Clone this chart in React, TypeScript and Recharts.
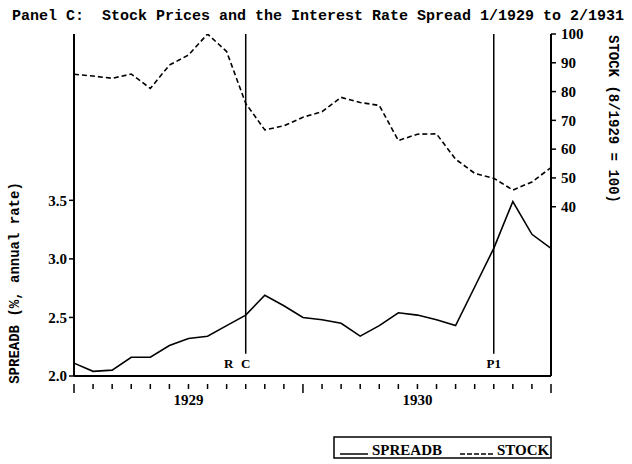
import { ComposedChart, Line, XAxis, YAxis, ReferenceLine } from 'recharts';

// monthly, 1/1929 .. 2/1931
const months = [
  '1/29', '2/29', '3/29', '4/29', '5/29', '6/29', '7/29', '8/29', '9/29', '10/29', '11/29', '12/29',
  '1/30', '2/30', '3/30', '4/30', '5/30', '6/30', '7/30', '8/30', '9/30', '10/30', '11/30', '12/30',
  '1/31', '2/31',
];
const spreadB = [
  2.11, 2.04, 2.05, 2.16, 2.16, 2.26, 2.32, 2.34, 2.43, 2.52, 2.69, 2.6,
  2.5, 2.48, 2.45, 2.34, 2.43, 2.54, 2.52, 2.48, 2.43, 2.76, 3.09, 3.49,
  3.21, 3.09,
];
const stock = [
  86, 85.4, 84.6, 86.1, 81.1, 89.2, 92.7, 100, 93.9, 75.9, 66.7, 68.1,
  71.1, 73, 78, 76.2, 75.2, 63, 65.2, 65.3, 56.5, 51.6, 49.9, 45.8,
  48.6, 53.6,
];
const leftTicks = [2.0, 2.5, 3.0, 3.5];
const rightTicks = [40, 50, 60, 70, 80, 90, 100];
const yearLabels: Record<number, string> = { 6: '1929', 18: '1930' };
const majorTicks = [0, 12, 25];
const events = [
  { i: 9, label: ['R', 'C'] },
  { i: 22, label: ['P1'] },
];

const data = months.map((m, i) => ({ i, month: m, spreadB: spreadB[i], stock: stock[i] }));
const monthTicks = months.map((_, i) => i);

const SERIF = '"Liberation Serif", "Times New Roman", serif';
const MONO = '"Liberation Mono", "DejaVu Sans Mono", monospace';

function MonthTick({ x, y, payload }: { x?: number; y?: number; payload?: { value: number } }) {
  const v = payload?.value ?? 0;
  const len = majorTicks.includes(v) ? 9 : 5;
  return (
    <g>
      <line x1={x} y1={y} x2={x} y2={(y || 0) + len} stroke="#000" strokeWidth={1.5} />
      {yearLabels[v] && (
        <text x={x} y={(y || 0) + 21} textAnchor="middle" fontFamily={SERIF} fontWeight="bold" fontSize={15} fill="#000">
          {yearLabels[v]}
        </text>
      )}
    </g>
  );
}

function EventLabel({ viewBox, parts }: { viewBox?: { x: number; y: number; width: number; height: number }; parts: string[] }) {
  if (!viewBox) return null;
  const x = viewBox.x;
  const y = viewBox.y + viewBox.height + 14;
  const style = { fontFamily: SERIF, fontWeight: 'bold' as const, fontSize: 13, fill: '#000' };
  if (parts.length === 2) {
    return (
      <g>
        <text x={x - 17} y={y} textAnchor="middle" {...style}>{parts[0]}</text>
        <text x={x} y={y} textAnchor="middle" {...style}>{parts[1]}</text>
      </g>
    );
  }
  return <text x={x} y={y} textAnchor="middle" {...style}>{parts[0]}</text>;
}

export default function App() {
  return (
    <div style={{ position: 'absolute', left: 0, top: 0, width: 632, height: 464, background: '#fff' }}>
      <ComposedChart width={632} height={464} data={data} margin={{ top: 34, right: 36, bottom: 58, left: 24 }}>
        <XAxis
          dataKey="i"
          type="number"
          domain={[0, 25]}
          ticks={monthTicks}
          interval={0}
          tick={<MonthTick />}
          tickLine={false}
          axisLine={{ stroke: '#000', strokeWidth: 2 }}
          height={30}
        />
        <XAxis xAxisId="top" orientation="top" dataKey="i" type="number" domain={[0, 25]} tick={false} tickLine={false} height={0} axisLine={{ stroke: '#000', strokeWidth: 2 }} />
        <YAxis
          yAxisId="left"
          domain={[2, 4.92]}
          allowDataOverflow
          ticks={leftTicks}
          tickFormatter={(v: number) => v.toFixed(1)}
          tick={{ fill: '#000', fontFamily: SERIF, fontWeight: 'bold', fontSize: 15 }}
          tickLine={{ stroke: '#000', strokeWidth: 1.5 }}
          tickSize={5}
          axisLine={{ stroke: '#000', strokeWidth: 2 }}
          width={50}
        />
        <YAxis
          yAxisId="right"
          orientation="right"
          domain={[-18.8, 100]}
          allowDataOverflow
          ticks={rightTicks}
          tick={{ fill: '#000', fontFamily: SERIF, fontWeight: 'bold', fontSize: 15 }}
          tickLine={{ stroke: '#000', strokeWidth: 1.5 }}
          tickSize={5}
          tickMargin={5}
          axisLine={{ stroke: '#000', strokeWidth: 2 }}
          width={45}
        />
        {events.map((e) => (
          <ReferenceLine
            key={e.i}
            yAxisId="left"
            segment={[{ x: e.i, y: 4.92 }, { x: e.i, y: 2.19 }]}
            stroke="#000"
            strokeWidth={1.5}
            label={<EventLabel parts={e.label} />}
          />
        ))}
        <Line yAxisId="left" dataKey="spreadB" stroke="#000" strokeWidth={1.6} dot={false} isAnimationActive={false} />
        <Line yAxisId="right" dataKey="stock" stroke="#000" strokeWidth={1.6} strokeDasharray="5 3" dot={false} isAnimationActive={false} />
      </ComposedChart>
      <svg width={632} height={464} style={{ position: 'absolute', left: 0, top: 0, pointerEvents: 'none' }}>
        <text x={318} y={19.5} textAnchor="middle" fontFamily={MONO} fontWeight="bold" fontSize={15} fill="#000" xmlSpace="preserve">
          Panel C:  Stock Prices and the Interest Rate Spread 1/1929 to 2/1931
        </text>
        <text transform="translate(15,283) rotate(-90)" textAnchor="middle" dominantBaseline="central" fontFamily={MONO} fontWeight="bold" fontSize={14} fill="#000">
          SPREADB (%, annual rate)
        </text>
        <text transform="translate(613,119) rotate(90)" textAnchor="middle" dominantBaseline="central" fontFamily={MONO} fontWeight="bold" fontSize={14} fill="#000">
          STOCK (8/1929 = 100)
        </text>
        <rect x={334} y={437} width={217} height={21} fill="none" stroke="#000" strokeWidth={1.5} />
        <line x1={340} y1={454} x2={368} y2={454} stroke="#000" strokeWidth={1.5} />
        <text x={372} y={455} fontFamily={SERIF} fontWeight="bold" fontSize={15} fill="#000">SPREADB</text>
        <line x1={460} y1={454} x2={493} y2={454} stroke="#000" strokeWidth={1.5} strokeDasharray="5 2" />
        <text x={497} y={455} fontFamily={SERIF} fontWeight="bold" fontSize={15} fill="#000">STOCK</text>
      </svg>
    </div>
  );
}
